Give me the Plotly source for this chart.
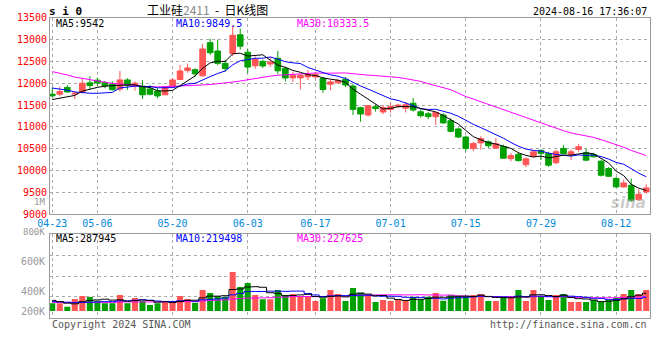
import plotly.graph_objects as go

# ---------------- data ----------------
dates = ["04-23","04-24","04-25","04-26","04-29","04-30",
         "05-06","05-07","05-08","05-09","05-10","05-13","05-14","05-15","05-16","05-17",
         "05-20","05-21","05-22","05-23","05-24","05-27","05-28","05-29","05-30","05-31",
         "06-03","06-04","06-05","06-06","06-07","06-11","06-12","06-13","06-14",
         "06-17","06-18","06-19","06-20","06-21","06-24","06-25","06-26","06-27","06-28",
         "07-01","07-02","07-03","07-04","07-05","07-08","07-09","07-10","07-11","07-12",
         "07-15","07-16","07-17","07-18","07-19","07-22","07-23","07-24","07-25","07-26",
         "07-29","07-30","07-31","08-01","08-02","08-05","08-06","08-07","08-08","08-09",
         "08-12","08-13","08-14","08-15","08-16"]

tick_dates = ["04-23","05-06","05-20","06-03","06-17","07-01","07-15","07-29","08-12"]

opens = [11748,11748,11900,11750,11795,12008,12070,12015,11985,11865,
         12075,11940,11930,11868,11822,11733,11915,12085,12290,12310,
         12170,12930,12738,12455,12680,13110,12710,12400,12500,12440,
         12572,12340,12122,12122,12145,12145,12107,11977,12010,12090,
         11935,11438,11270,11460,11340,11400,11470,11425,11540,11345,
         11300,11232,11270,11140,10950,10766,10505,10630,10655,10510,
         10550,10270,10370,10130,10320,10460,10388,10174,10504,10366,
         10481,10404,10366,10212,10043,9813,9621,9659,9329,9505]
highs = [11905,11920,11960,11810,12110,12160,12130,12050,12040,12280,
         12115,12040,12075,11960,11898,11930,12110,12420,12450,12340,
         12900,13020,13000,12540,13330,13250,12780,12615,12545,12600,
         12740,12380,12259,12221,12300,12260,12145,12084,12100,12140,
         11980,11461,11500,11510,11500,11555,11530,11570,11660,11400,
         11345,11345,11320,11200,10987,10796,10651,10781,10690,10743,
         10590,10400,10414,10299,10475,10480,10427,10466,10580,10481,
         10604,10504,10404,10235,10081,9851,9790,9813,9567,9682]
lows = [11680,11700,11780,11635,11770,11850,11940,11885,11830,11810,
        11850,11830,11640,11720,11654,11730,11910,12070,12240,12150,
        12150,12645,12415,12260,12620,12770,12230,12335,12350,12370,
        12200,12040,12030,11855,12069,12107,11779,11840,11990,11910,
        11270,11117,11232,11350,11290,11325,11430,11330,11350,11210,
        11175,11040,11070,10873,10743,10437,10437,10475,10513,10498,
        10265,10207,10200,10070,10299,10240,10081,10143,10366,10235,
        10427,10210,10300,9860,9851,9605,9605,9275,9298,9467]
closes = [11710,11809,11800,11770,12000,11945,12005,11940,11850,12075,
          11945,12000,11735,11746,11708,11915,12075,12280,12350,12215,
          12785,12700,12455,12335,13100,12850,12370,12545,12395,12480,
          12285,12120,12183,12183,12198,12198,11855,12030,12060,11960,
          11400,11293,11484,11420,11445,11465,11495,11505,11385,11255,
          11235,11330,11090,10896,10766,10505,10615,10730,10567,10610,
          10280,10340,10225,10265,10425,10390,10120,10427,10388,10427,
          10542,10235,10312,9889,9866,9621,9713,9313,9452,9598]

volumes = [122700,122700,69300,192000,240000,224000,165000,122700,122700,256000,
           122700,208000,160000,96000,122700,149000,149000,240000,192000,133000,
           336000,288000,240000,229000,624000,384000,448000,256000,187000,187000,
           336000,256000,272000,240000,229000,160000,203000,336000,272000,160000,
           368000,293000,256000,144000,176000,160000,187000,176000,229000,187000,
           229000,288000,165000,256000,240000,240000,256000,272000,160000,160000,
           224000,240000,336000,160000,336000,229000,176000,256000,272000,144000,
           144000,144000,176000,144000,176000,208000,272000,336000,272000,336000]

# moving-average values at the start of the window (read from the chart,
# they depend on sessions before 04-23)
ma5_head = [11625, 11660, 11690, 11720]
ma10_head = [11890, 11870, 11840, 11800, 11780, 11770, 11768, 11775, 11790]
ma30_head = [12265, 12230, 12190, 12140, 12110, 12080, 12050, 12020, 11995, 11980,
             11970, 11950, 11925, 11915, 11915, 11920, 11925, 11935, 11945, 11955,
             11960, 11970, 11985, 12005, 12025, 12050, 12080, 12110, 12140]
vma5_head = [170000, 150000, 125000, 115000]
vma10_head = [150000, 145000, 140000, 135000, 135000, 140000, 145000, 150000, 150000]
vma30_head = [138000, 138000, 138000, 138000, 138000, 138000, 138000, 138000, 138000, 145000,
              145000, 145000, 145000, 145000, 145000, 145000, 145000, 150000, 150000, 150000,
              160000, 170000, 175000, 178000, 190000, 198000, 205000, 208000, 210000]

price_ticks = [9000, 9500, 10000, 10500, 11000, 11500, 12000, 12500, 13000, 13500]
vol_labels = ["1M", "800K", "600K", "400K", "200K"]

ma_texts = ["MA5:9542", "MA10:9849.5", "MA30:10333.5"]
vma_texts = ["MA5:287945", "MA10:219498", "MA30:227625"]


def moving_avg(vals, n, head):
    out = list(head)
    for i in range(len(head), len(vals)):
        out.append(sum(vals[i - n + 1:i + 1]) / n)
    return out


ma5 = moving_avg(closes, 5, ma5_head)
ma10 = moving_avg(closes, 10, ma10_head)
ma30 = moving_avg(closes, 30, ma30_head)
vma5 = moving_avg(volumes, 5, vma5_head)
vma10 = moving_avg(volumes, 10, vma10_head)
vma30 = moving_avg(volumes, 30, vma30_head)

# ---------------- style ----------------
W, H = 660, 360
UP = "#FF5555"
DOWN = "#00A000"
MONO = "DejaVu Sans Mono"
GRID = "#AAAAAA"
BORDER = "#999999"


def fx(x):
    return x / W


def fy(y):
    return 1 - y / H


X_DOM = [fx(50), fx(650)]
P_DOM = [fy(214), fy(17.8)]
V_DOM = [fy(317.7), fy(234.3)]
X_RANGE = [-0.3, 79.5]
V_RANGE = [-107000, 1227000]
v_grid = [V_RANGE[0] + (V_RANGE[1] - V_RANGE[0]) * k / 4 for k in (1, 2, 3)]

vol_colors = [UP if c >= o else DOWN for o, c in zip(opens, closes)]

fig = go.Figure()

fig.add_trace(go.Candlestick(
    x=dates, open=opens, high=highs, low=lows, close=closes,
    increasing=dict(line=dict(color=UP, width=1), fillcolor=UP),
    decreasing=dict(line=dict(color=DOWN, width=1), fillcolor=DOWN),
    xaxis="x", yaxis="y", showlegend=False, hoverinfo="skip"))

for vals, col in ((ma30, "#FF00FF"), (ma10, "#0000FF"), (ma5, "#000000")):
    fig.add_trace(go.Scatter(x=dates, y=vals, mode="lines",
                             line=dict(color=col, width=1),
                             xaxis="x", yaxis="y", showlegend=False, hoverinfo="skip"))

fig.add_trace(go.Bar(x=dates, y=volumes, marker=dict(color=vol_colors, line=dict(width=0)),
                     xaxis="x2", yaxis="y2", showlegend=False, hoverinfo="skip"))

for vals, col in ((vma30, "#FF00FF"), (vma10, "#0000FF"), (vma5, "#000000")):
    fig.add_trace(go.Scatter(x=dates, y=vals, mode="lines",
                             line=dict(color=col, width=1, shape="hvh"),
                             xaxis="x2", yaxis="y2", showlegend=False, hoverinfo="skip"))

common_x = dict(type="category", range=X_RANGE, tickmode="array", tickvals=tick_dates,
                showgrid=True, gridcolor=GRID, griddash="dot", gridwidth=1,
                showline=True, mirror=True, linecolor=BORDER, linewidth=1,
                ticks="", zeroline=False, automargin=False, fixedrange=True)

ann = []


def text(s, x, y, color="#000", size=10, anchor="left", family=MONO):
    ann.append(dict(text=s, x=fx(x), y=fy(y), xref="paper", yref="paper",
                    xanchor=anchor, yanchor="middle", showarrow=False,
                    font=dict(family=family, size=size, color=color)))


NB = "\u00a0"
# header
text("<b>s i 0</b>", 47, 11.5, size=11)
text("工业硅<span style='color:#888888'>2411</span>" + NB * 2 + "-" + NB * 2 + "日K线图",
     207, 9.5, size=12, anchor="center", family="Noto Sans CJK SC")
text("2024-08-16 17:36:07", 649, 12, size=10, anchor="right")

# MA legends
for s, x, c in zip(ma_texts, (54, 174, 295), ("#000000", "#0000FF", "#FF00FF")):
    text(s, x, 24, color=c)
for s, x, c in zip(vma_texts, (54, 174, 295), ("#000000", "#0000FF", "#FF00FF")):
    text(s, x, 238.5, color=c)

# volume scale labels
for s, y, sz in zip(vol_labels, (201.5, 232, 261, 291, 311), (9, 9, 10, 10, 10)):
    text(s, 47, y, color="#999999", anchor="right", size=sz)

# footer
text("Copyright 2024 SINA.COM", 50, 324, color="#555555")
text("http://finance.sina.com.cn", 649, 324, color="#555555", anchor="right")

# watermark
text("<b><i>sina</i></b>", 628, 203, color="rgba(160,160,160,0.55)", size=15,
     anchor="center", family="DejaVu Sans")

fig.update_layout(
    width=W, height=H,
    margin=dict(l=0, r=0, t=0, b=0),
    paper_bgcolor="white", plot_bgcolor="white",
    font=dict(family=MONO, size=10, color="#000"),
    showlegend=False,
    bargap=0.2, boxgap=0.25, boxgroupgap=0,
    xaxis=dict(domain=X_DOM, anchor="y", rangeslider=dict(visible=False),
               ticktext=tick_dates, showticklabels=True,
               tickfont=dict(family=MONO, size=10, color="#0088DD"), **common_x),
    yaxis=dict(domain=P_DOM, anchor="x", range=[9000, 13500], tickmode="array",
               tickvals=price_ticks, ticktext=[str(v) for v in price_ticks],
               tickfont=dict(family=MONO, size=10, color="#FF0000"),
               showgrid=True, gridcolor=GRID, griddash="dot", gridwidth=1,
               showline=True, mirror=True, linecolor=BORDER, linewidth=1,
               ticks="", zeroline=False, automargin=False, fixedrange=True),
    xaxis2=dict(domain=X_DOM, anchor="y2", showticklabels=False, **common_x),
    yaxis2=dict(domain=V_DOM, anchor="x2", range=V_RANGE, tickmode="array",
                tickvals=v_grid, showticklabels=False,
                showgrid=True, gridcolor=GRID, griddash="dot", gridwidth=1,
                showline=True, mirror=True, linecolor=BORDER, linewidth=1,
                ticks="", zeroline=False, automargin=False, fixedrange=True),
    annotations=ann,
)

fig.write_html(
    "out.html",
    config={"displayModeBar": False, "staticPlot": True},
    post_script="document.body.style.margin='0';document.body.style.padding='0';"
                "document.body.style.overflow='hidden';",
)
